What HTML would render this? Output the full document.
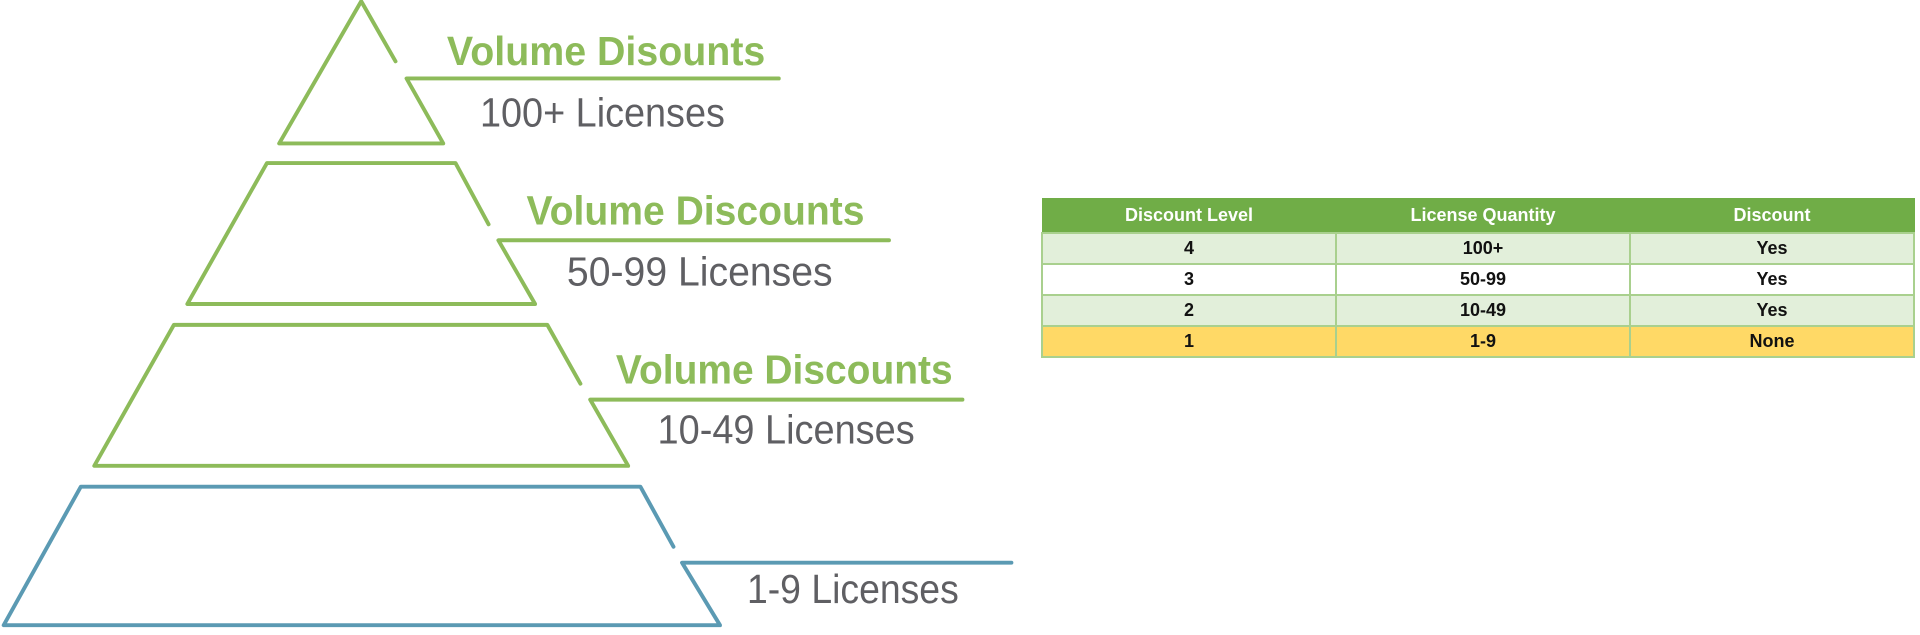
<!DOCTYPE html>
<html><head><meta charset="utf-8"><style>
html,body{margin:0;padding:0;background:#fff;width:1920px;height:635px;overflow:hidden;position:relative}
svg{position:absolute;left:0;top:0}
table{position:absolute;left:1041px;top:198px;width:874px;border-collapse:collapse;font-family:"Liberation Sans",sans-serif;font-weight:bold;font-size:18px;text-align:center}
th{background:#70ad47;color:#fff;height:31px;border:1px solid #70ad47;font-size:18px;transform-origin:center}
td{height:29px;border:2px solid #a9d08e;color:#111;padding:0}
tr.a td{background:#e2efda}
tr.b td{background:#fff}
tr.y td{background:#ffd966}
</style></head><body>
<svg width="1920" height="635" viewBox="0 0 1568 518" preserveAspectRatio="none">
<g fill="none" stroke-width="3.2" stroke-linecap="round" stroke-linejoin="round">
<g stroke="#8dbb5a">
<polyline points="323,50 295,1 228,117 362,117 332,64 636,64"/>
</g>
<g stroke="#8dbb5a">
<polyline points="399,183 372,133 218,133 153,248 437,248 407,196 726,196"/>
</g>
<g stroke="#8dbb5a">
<polyline points="474,313 447,265 142,265 77,380 513,380 482,326 786,326"/>
</g>
<g stroke="#5b9ab3">
<polyline points="550,446 523,397 66,397 3,510 588,510 557,459 826,459"/>
</g>
</g>
<g font-family="Liberation Sans, sans-serif">
<text x="365" y="53" font-size="33" font-weight="bold" fill="#8dbb5a" textLength="260" lengthAdjust="spacingAndGlyphs">Volume Disounts</text>
<text x="392" y="103" font-size="33" fill="#5f5f63" textLength="200" lengthAdjust="spacingAndGlyphs">100+ Licenses</text>
<text x="430" y="183" font-size="33" font-weight="bold" fill="#8dbb5a" textLength="276" lengthAdjust="spacingAndGlyphs">Volume Discounts</text>
<text x="463" y="233" font-size="33" fill="#5f5f63" textLength="217" lengthAdjust="spacingAndGlyphs">50-99 Licenses</text>
<text x="503" y="313" font-size="33" font-weight="bold" fill="#8dbb5a" textLength="275" lengthAdjust="spacingAndGlyphs">Volume Discounts</text>
<text x="537" y="362" font-size="33" fill="#5f5f63" textLength="210" lengthAdjust="spacingAndGlyphs">10-49 Licenses</text>
<text x="610" y="492" font-size="33" fill="#5f5f63" textLength="173" lengthAdjust="spacingAndGlyphs">1-9 Licenses</text>
</g>
</svg>
<table>
<tr><th style="width:291px">Discount Level</th><th style="width:291px">License Quantity</th><th>Discount</th></tr>
<tr class="a"><td>4</td><td>100+</td><td>Yes</td></tr>
<tr class="b"><td>3</td><td>50-99</td><td>Yes</td></tr>
<tr class="a"><td>2</td><td>10-49</td><td>Yes</td></tr>
<tr class="y"><td>1</td><td>1-9</td><td>None</td></tr>
</table>
</body></html>
